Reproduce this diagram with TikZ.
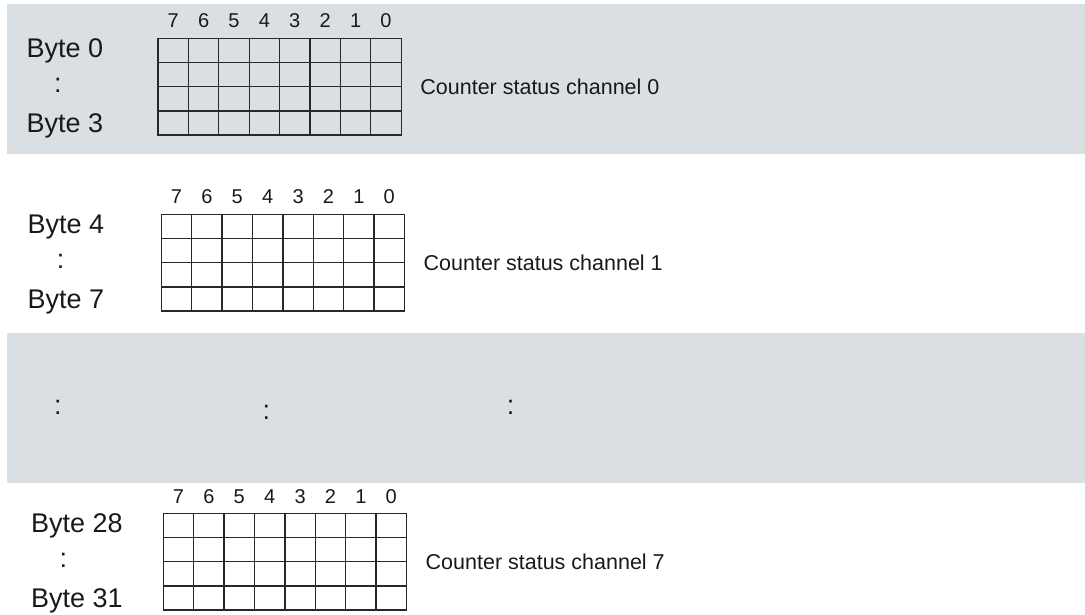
\documentclass[tikz,border=0pt]{standalone}
\usepackage{fontspec}
\setmainfont{Liberation Sans}
\definecolor{bandgray}{RGB}{218,223,227}
\definecolor{ink}{RGB}{25,25,25}
\definecolor{gridline}{RGB}{40,40,40}
\begin{document}
\begin{tikzpicture}[x=1pt,y=-1pt,
  band/.style={fill=bandgray, draw=none},
  cellline/.style={draw=gridline, line width=1.3pt},
  gridbox/.style={draw=gridline, line width=1.3pt, inner sep=0pt, outer sep=0pt, minimum width=243.2pt, minimum height=96.8pt, anchor=north west},
  bytelbl/.style={anchor=base west, inner sep=0pt, font=\fontsize{27}{32}\selectfont, text=ink},
  colonlbl/.style={anchor=center, inner sep=0pt, font=\fontsize{27}{32}\selectfont, text=ink},
  bitlbl/.style={anchor=base, inner sep=0pt, font=\fontsize{20}{24}\selectfont, text=ink},
  cntlbl/.style={anchor=base west, inner sep=0pt, font=\fontsize{21.5}{26}\selectfont, text=ink}]
\useasboundingbox (0,0) rectangle (1085,615);
% grey bands
\fill[band] (7,4) rectangle (1085,154);
\fill[band] (7,333.3) rectangle (1085,482.7);
% three byte blocks
\foreach \n/\gx/\gy/\lx/\cx/\ta/\tb/\ch in {a/158/38.3/26.5/58/0/3/0, b/161.3/214.3/27.5/60.7/4/7/1, c/163.3/513.3/31/63.3/28/31/7} {
  \node[gridbox] (grid\n) at (\gx,\gy) {};
  \foreach \i in {1,...,7} {
    \draw[cellline] (\gx+\i*30.4,\gy) -- (\gx+\i*30.4,\gy+96.8);
  }
  \foreach \j in {1,2,3} {
    \draw[cellline] (\gx,\gy+\j*24.2) -- (\gx+243.2,\gy+\j*24.2);
  }
  \foreach \i in {0,...,7} {
    \pgfmathtruncatemacro{\bitno}{7-\i}
    \node[bitlbl] (bit\n\i) at (\gx+15.2+\i*30.4,\gy-10.3) {\bitno};
  }
  \node[bytelbl] (top\n) at (\lx,\gy+19.6) {Byte \ta};
  \node[bytelbl] (bot\n) at (\lx,\gy+94.5) {Byte \tb};
  \node[colonlbl] (dots\n) at (\cx,\gy+47.5) {:};
  \node[cntlbl] (cnt\n) at (\gx+262.2,\gy+56.2) {Counter status channel \ch};
}
% continuation marks in the second band
\node[colonlbl] (gapa) at (58,407.5) {:};
\node[colonlbl] (gapb) at (266.4,412) {:};
\node[colonlbl] (gapc) at (510.7,407.5) {:};
\end{tikzpicture}
\end{document}
